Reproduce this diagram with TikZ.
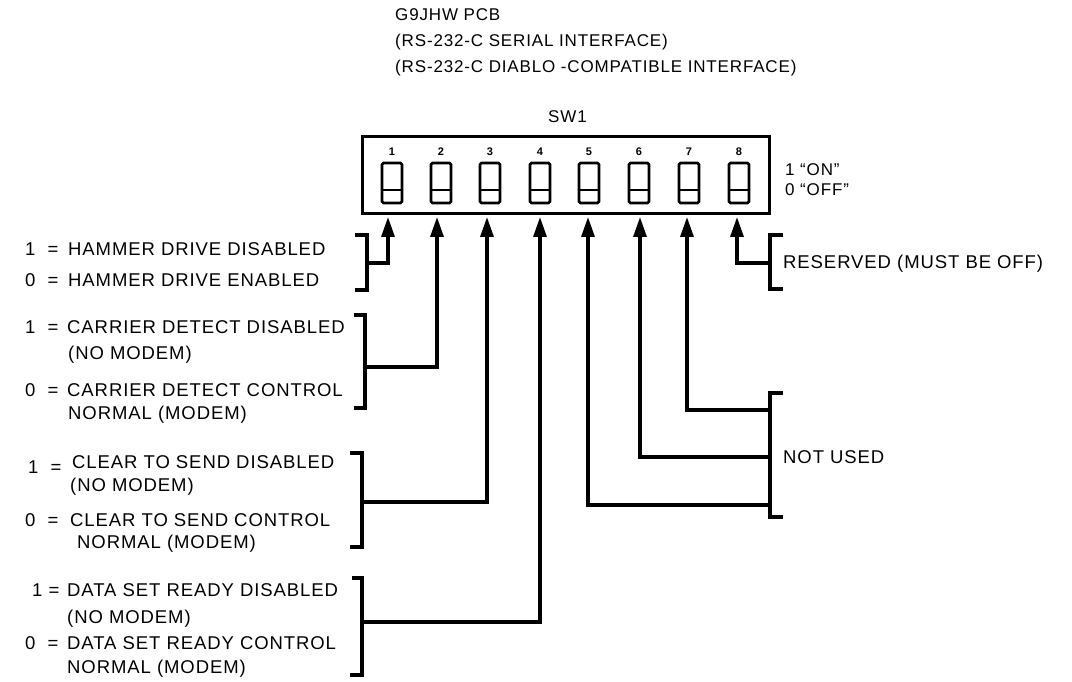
\documentclass[tikz,border=0pt]{standalone}
\usepackage{fontspec}
\setmainfont{Liberation Sans}[LetterSpace=5]
\usetikzlibrary{arrows.meta}
\begin{document}
\begin{tikzpicture}[x=1pt,y=-1pt,
  lbl/.style={anchor=base west, inner sep=0pt, font=\fontsize{18.5}{22}\selectfont},
  ttl/.style={anchor=base west, inner sep=0pt, font=\fontsize{17}{20}\selectfont},
  ln/.style={line width=3.2pt},
  arr/.style={ln, -{Triangle[length=20pt,width=13pt]}},
  swbox/.style={draw, line width=2.6pt, rounded corners=1.5pt, minimum width=20pt, minimum height=40pt, inner sep=0pt},
  num/.style={inner sep=0pt, font=\bfseries\fontsize{11}{13}\selectfont}]
\useasboundingbox (0,0) rectangle (1072,682);
% titles
\node[ttl] (t1) at (395,21) {G9JHW PCB};
\node[ttl] (t2) at (395,47) {(RS-232-C SERIAL INTERFACE)};
\node[ttl] (t3) at (395,73) {(RS-232-C DIABLO -COMPATIBLE INTERFACE)};
\node[ttl] (sw) at (548,123) {SW1};
\node[ttl] (on) at (785,176) {1 ``ON''};
\node[ttl] (off) at (785,196) {0 ``OFF''};
% switch box
\node[draw, line width=2.6pt, minimum width=407pt, minimum height=77pt, inner sep=0pt] (box) at (566,175) {};
\foreach \i/\x in {1/392,2/441,3/490,4/540,5/589,6/639,7/689,8/739}{
  \node[swbox] (s\i) at (\x,183) {};
  \draw[line width=2.6pt] ([yshift=-7pt]s\i.west) -- ([yshift=-7pt]s\i.east);
  \node[num] (n\i) at (\x,152) {\i};
}
% arrow tips
\foreach \i/\x in {1/388,2/437,3/487,4/540,5/588,6/640,7/687,8/737}{
  \coordinate (a\i) at (\x,217);
}
% left labels
\node[lbl] (h1n) at (25,255) {1\ \ =};
\node[lbl] (h1) at (68,255) {HAMMER DRIVE DISABLED};
\node[lbl] (h0n) at (25,286) {0\ \ =};
\node[lbl] (h0) at (68,286) {HAMMER DRIVE ENABLED};
\node[lbl] (c1n) at (25,333) {1\ \ =};
\node[lbl] (c1) at (67,333) {CARRIER DETECT DISABLED};
\node[lbl] (c1b) at (68,359) {(NO MODEM)};
\node[lbl] (c0n) at (25,396) {0\ \ =};
\node[lbl] (c0) at (67,396) {CARRIER DETECT CONTROL};
\node[lbl] (c0b) at (68,419) {NORMAL (MODEM)};
\node[lbl] (d1n) at (28,473) {1\ \ =};
\node[lbl] (d1) at (72,468) {CLEAR TO SEND DISABLED};
\node[lbl] (d1b) at (70,491) {(NO MODEM)};
\node[lbl] (d0n) at (25,526) {0\ \ =};
\node[lbl] (d0) at (70,526) {CLEAR TO SEND CONTROL};
\node[lbl] (d0b) at (77,548) {NORMAL (MODEM)};
\node[lbl] (r1n) at (32,596) {1\ =};
\node[lbl] (r1) at (67,596) {DATA SET READY DISABLED};
\node[lbl] (r1b) at (67,623) {(NO MODEM)};
\node[lbl] (r0n) at (25,649) {0\ \ =};
\node[lbl] (r0) at (67,649) {DATA SET READY CONTROL};
\node[lbl] (r0b) at (67,673) {NORMAL (MODEM)};
% right labels
\node[lbl] (res) at (783,269) {RESERVED (MUST BE OFF)};
\node[lbl] (nu) at (783,463) {NOT USED};
% bracket junctions
\coordinate (bh) at (367,263);
\coordinate (bc) at (365,367);
\coordinate (bd) at (362,502);
\coordinate (br) at (362,622);
\coordinate (bs) at (770,263);
\coordinate (bn7) at (770,410);
\coordinate (bn6) at (770,457);
\coordinate (bn5) at (770,505);
% brackets
\draw[ln] (355,235) -- (367,235) -- (367,290) -- (355,290);
\draw[ln] (354,315) -- (365,315) -- (365,408) -- (354,408);
\draw[ln] (350,453) -- (362,453) -- (362,547) -- (350,547);
\draw[ln] (352,578) -- (362,578) -- (362,675) -- (350,675);
\draw[ln] (783,235) -- (770,235) -- (770,289) -- (783,289);
\draw[ln] (783,393) -- (770,393) -- (770,517) -- (783,517);
% connectors
\draw[arr] (bh) -| (a1);
\draw[arr] (bc) -| (a2);
\draw[arr] (bd) -| (a3);
\draw[arr] (br) -| (a4);
\draw[arr] (bn5) -| (a5);
\draw[arr] (bn6) -| (a6);
\draw[arr] (bn7) -| (a7);
\draw[arr] (bs) -| (a8);
\end{tikzpicture}
\end{document}
